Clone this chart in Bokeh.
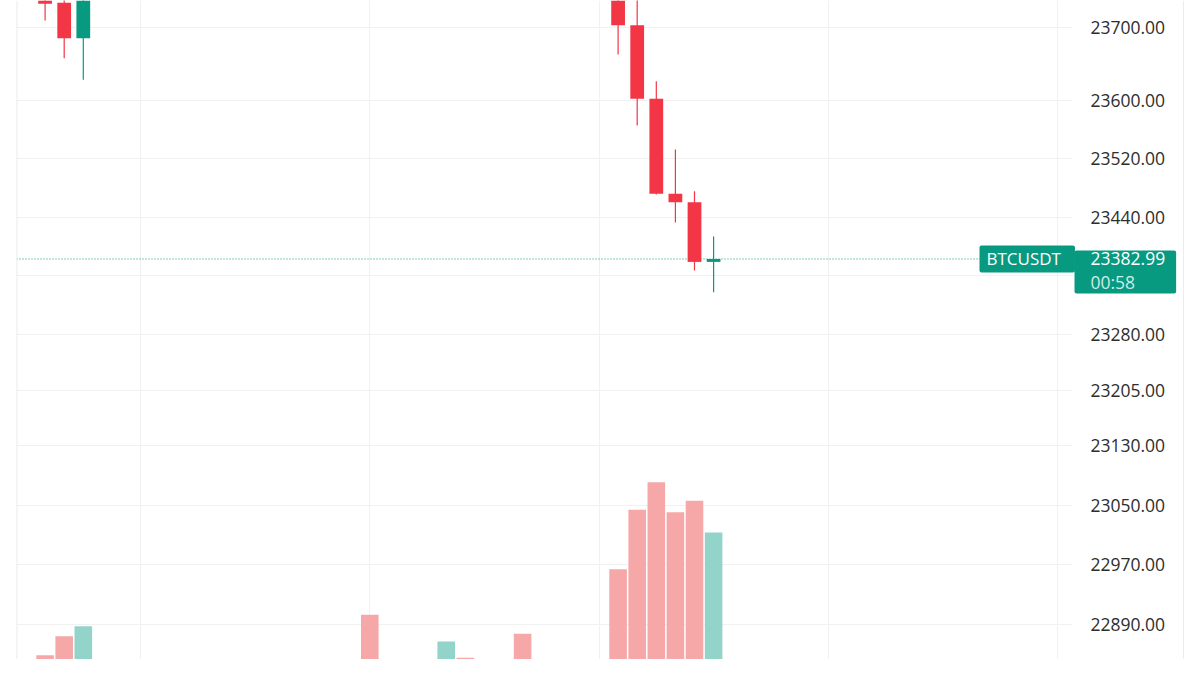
import math
from bokeh.plotting import figure
from bokeh.models import (Range1d, LinearScale, FixedTicker, NumeralTickFormatter, Span, Label,
                          ColumnDataSource, BoxAnnotation, CDSView, BooleanFilter)
from bokeh.embed import file_html
from bokeh.resources import INLINE

# ---------------- data ----------------
bar_index = list(range(36))
opens = [23743.3, 23734.5, 23685.6, 23760, 23776, 23772, 23780, 23788, 23783, 23779,
         23786, 23794, 23790, 23803, 23795, 23798, 23806, 23801, 23774, 23770,
         23776, 23783, 23799, 23786, 23789, 23797, 23775, 23779, 23777, 23766,
         23770, 23703.6, 23602.2, 23471.9, 23460.5, 23379.0]
highs = [23750.0, 23745.0, 23768.0, 23781, 23790, 23785, 23794, 23796, 23792, 23789,
         23799, 23801, 23808, 23810, 23802, 23811, 23812, 23805, 23781, 23779,
         23787, 23805, 23803, 23792, 23801, 23799, 23783, 23782, 23780, 23775,
         23776, 23745.0, 23626.4, 23532.6, 23475.5, 23413.7]
lows = [23710.1, 23658.1, 23628.3, 23752, 23768, 23763, 23774, 23779, 23775, 23771,
        23781, 23785, 23786, 23791, 23788, 23793, 23797, 23768, 23765, 23764,
        23771, 23779, 23781, 23782, 23784, 23768, 23771, 23773, 23762, 23761,
        23663.2, 23565.5, 23471.0, 23432.7, 23367.3, 23337.8]
closes = [23733.2, 23685.6, 23760, 23776, 23772, 23780, 23788, 23783, 23779, 23786,
          23794, 23790, 23803, 23795, 23798, 23806, 23801, 23774, 23770, 23776,
          23783, 23799, 23786, 23789, 23797, 23775, 23779, 23777, 23766, 23770,
          23703.6, 23602.2, 23471.9, 23460.5, 23379.0, 23382.99]
volumes = [141, 217, 257, 38, 52, 27, 45, 33, 56, 41,
           29, 47, 91, 65, 44, 65, 36, 303, 71, 50,
           96, 196, 131, 65, 120, 227, 76, 65, 112, 76,
           485, 723, 833, 713, 759, 632]
price_ticks = [23700, 23600, 23520, 23440, 23280, 23205, 23130, 23050, 22970, 22890]
grid_prices = [23700, 23600, 23520, 23440, 23360, 23280, 23205, 23130, 23050, 22970, 22890]
time_grid = [5, 17, 29, 41, 53]
symbol = "BTCUSDT"
countdown = "00:58"

# ---------------- styling / layout ----------------
UP = "#089981"
DOWN = "#F23645"
UP_VOL = "#92D3CA"
DOWN_VOL = "#F6A7A7"
GRID = "#F1F1F1"
FONT = "Open Sans"

W, H = 1184, 659
BORDER_L = 16
PRICE_LO, PRICE_HI = 22843.8, 23737.7
X_START, X_END = -1.497, 59.654      # whole frame, incl. price-scale strip
PANE_END = 53.79                     # where the price scale strip begins
PANE_EDGE = 59.6                     # thin right border of the widget

up = [c >= o for o, c in zip(opens, closes)]
src = ColumnDataSource(dict(
    x=bar_index,
    open=opens, high=highs, low=lows, close=closes,
    top=[max(o, c) for o, c in zip(opens, closes)],
    bottom=[min(o, c) for o, c in zip(opens, closes)],
    color=[UP if u else DOWN for u in up],
    vol=volumes,
    vol_color=[UP_VOL if u else DOWN_VOL for u in up],
))
in_view = CDSView(filter=BooleanFilter([lo < PRICE_HI for lo in lows]))

p = figure(width=W, height=H, output_backend="svg", toolbar_location=None,
           x_range=Range1d(X_START, X_END), y_range=Range1d(PRICE_LO, PRICE_HI),
           y_axis_type="log", y_axis_location="right", x_axis_location=None,
           min_border_left=BORDER_L, min_border_right=0, min_border_top=0, min_border_bottom=0,
           background_fill_color="white", border_fill_color="white")
p.outline_line_color = None
p.extra_y_ranges = {"vol": Range1d(124, 2760)}
p.extra_y_scales = {"vol": LinearScale()}

# grids
p.xgrid.ticker = FixedTicker(ticks=time_grid)
p.xgrid.grid_line_color = GRID
p.xgrid.grid_line_width = 1
p.ygrid.ticker = FixedTicker(ticks=grid_prices)
p.ygrid.grid_line_color = GRID
p.ygrid.grid_line_width = 1

# price line (under the scale strip)
last = closes[-1]
p.add_layout(Span(location=last, dimension="width", line_color=UP, line_width=1,
                  line_dash="1 2", level="underlay"))

# white price-scale strip hides the grid ends
p.add_layout(BoxAnnotation(left=PANE_END, fill_color="white", fill_alpha=1.0,
                           line_color=None, level="underlay"))

# axis drawn at the edge of the chart pane
ax = p.yaxis[0]
ax.fixed_location = PANE_END
ax.ticker = FixedTicker(ticks=price_ticks)
ax.formatter = NumeralTickFormatter(format="0.00")
ax.axis_line_color = None
ax.major_tick_line_color = None
ax.minor_tick_line_color = None
ax.major_tick_out = 0
ax.major_tick_in = 0
ax.major_label_standoff = 18
ax.major_label_text_font = FONT
ax.major_label_text_font_size = "17.5px"
ax.major_label_text_color = "#2E2E2E"

# pane borders
p.add_layout(Span(location=X_START, dimension="height", line_color="#ECECEC", line_width=2))
p.add_layout(Span(location=PANE_EDGE, dimension="height", line_color="#ECECEC", line_width=1))

# volume
p.vbar(x="x", width=0.92, top="vol", bottom=0, color="vol_color", line_color=None,
       source=src, y_range_name="vol")

# candles
p.segment(x0="x", y0="low", x1="x", y1="high", line_color="color", line_width=1.2,
          source=src, view=in_view)
p.vbar(x="x", width=0.72, top="top", bottom="bottom", fill_color="color", line_color=None,
       source=src, view=in_view)

# price tag (screen y of the last close, from the log price scale)
last_sy = H * math.log(last / PRICE_LO) / math.log(PRICE_HI / PRICE_LO)

p.add_layout(Label(x=963, x_units="screen", y=last_sy, y_units="screen", text=symbol,
                   text_font=FONT, text_font_size="17px", text_color="white",
                   text_baseline="middle", text_align="left",
                   background_fill_color=UP, padding=dict(left=7, right=14, top=2, bottom=2),
                   border_radius=2))
p.add_layout(Label(x=1058, x_units="screen", y=last_sy, y_units="screen", y_offset=-13,
                   text=f"{last:.2f}",
                   text_font=FONT, text_font_size="17.5px", text_color="white",
                   text_baseline="middle", text_align="left",
                   background_fill_color=UP, padding=dict(left=16, right=11, top=2, bottom=28),
                   border_radius=2))
p.add_layout(Label(x=1074, x_units="screen", y=last_sy, y_units="screen", y_offset=-23,
                   text=countdown,
                   text_font=FONT, text_font_size="17.5px", text_color="#CDEBE6",
                   text_baseline="middle", text_align="left"))

open("out.html", "w").write(file_html(p, INLINE))
